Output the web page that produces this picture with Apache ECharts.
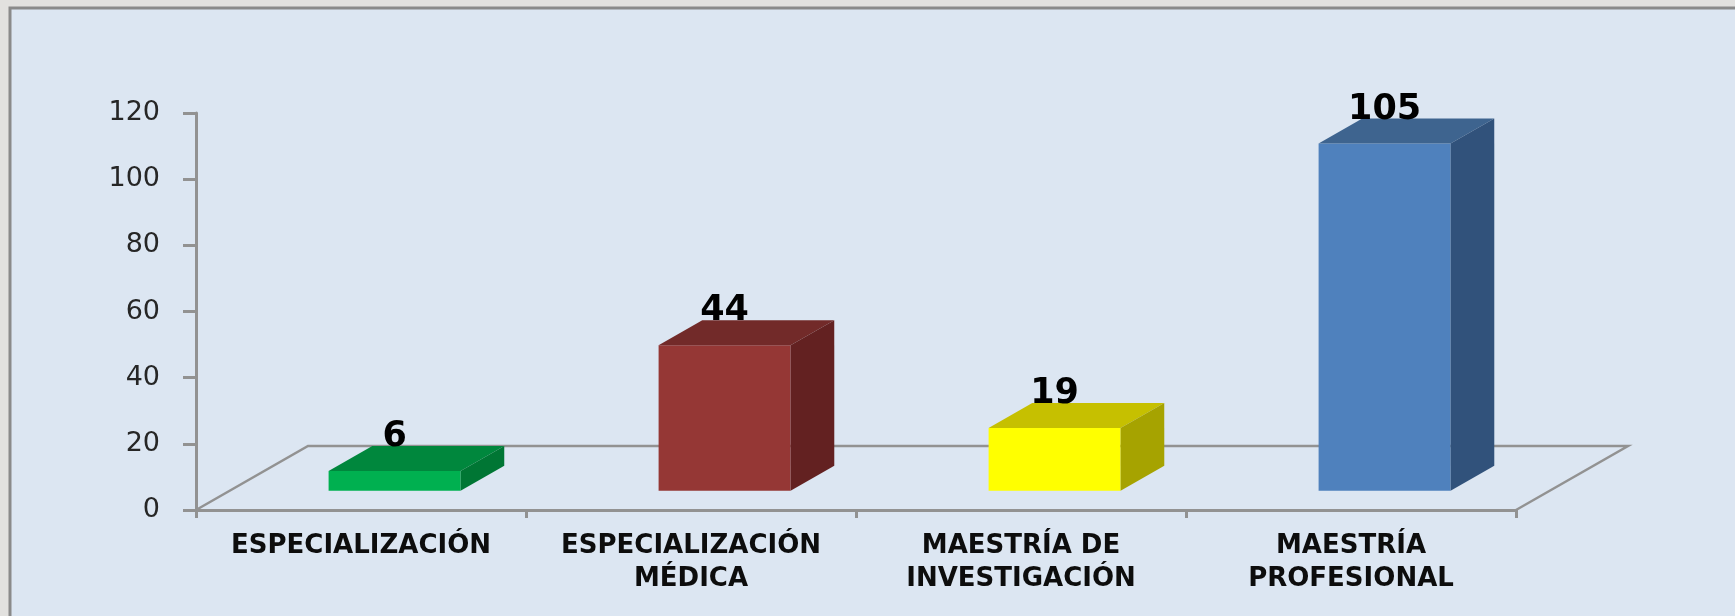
<!DOCTYPE html>
<html>
<head>
<meta charset="utf-8">
<script src="https://cdn.jsdelivr.net/npm/echarts@6/dist/echarts.min.js"></script>
<style>
html,body{margin:0;padding:0;background:#e2e1df;}
#chart{width:1735px;height:616px;}
</style>
</head>
<body>
<div id="chart"></div>
<script>
// ---- data ----
const categories = ['ESPECIALIZACIÓN', 'ESPECIALIZACIÓN\nMÉDICA', 'MAESTRÍA DE\nINVESTIGACIÓN', 'MAESTRÍA\nPROFESIONAL'];
const values = [6, 44, 19, 105];
const yTicks = { min: 0, max: 120, interval: 20 };

// ---- styles ----
const faceColors = [
  { front: '#00B050', top: '#00873D', side: '#007634' },
  { front: '#953735', top: '#722A29', side: '#632121' },
  { front: '#FFFF00', top: '#C6C000', side: '#A6A300' },
  { front: '#4F81BD', top: '#3E648F', side: '#31527B' }
];
const FLOOR_DX = 112, FLOOR_DY = -64;   // floor depth in px
const BAR_F = 0.30, BAR_D = 0.39;       // bar front position and depth as fraction of floor depth
const BAR_W = 0.4;                      // bar width as fraction of category width

const chart = echarts.init(document.getElementById('chart'));

function floorRender(params, api) {
  const cs = params.coordSys;
  const x0 = cs.x, x1 = cs.x + cs.width, y0 = cs.y + cs.height;
  const st = { stroke: '#929292', lineWidth: 2.5, fill: null };
  return {
    type: 'group',
    children: [
      { type: 'polyline', shape: { points: [[x0, y0], [x0 + FLOOR_DX, y0 + FLOOR_DY], [x1 + FLOOR_DX, y0 + FLOOR_DY], [x1, y0]] }, style: st }
    ]
  };
}

function barRender(params, api) {
  const idx = api.value(0), val = api.value(1);
  const base = api.coord([idx, 0]);
  const top = api.coord([idx, val]);
  const bw = api.size([1, 0])[0] * BAR_W;
  const fx = FLOOR_DX * BAR_F, fy = FLOOR_DY * BAR_F;
  const dx = FLOOR_DX * BAR_D, dy = FLOOR_DY * BAR_D;
  const cx = base[0] + fx;
  const xl = cx - bw / 2, xr = cx + bw / 2;
  const yb = base[1] + fy, yt = top[1] + fy;
  const c = faceColors[idx];
  return {
    type: 'group',
    children: [
      { type: 'rect', shape: { x: xl, y: yt, width: bw, height: yb - yt }, style: { fill: c.front } },
      { type: 'polygon', shape: { points: [[xl, yt], [xr, yt], [xr + dx, yt + dy], [xl + dx, yt + dy]] }, style: { fill: c.top } },
      { type: 'polygon', shape: { points: [[xr, yt], [xr + dx, yt + dy], [xr + dx, yb + dy], [xr, yb]] }, style: { fill: c.side } },
      { type: 'text', x: cx, y: yt + dy - 9, style: { text: String(val), fill: '#000', font: 'bold 35px "DejaVu Sans"', textAlign: 'center', textVerticalAlign: 'middle' } }
    ]
  };
}

chart.setOption({
  backgroundColor: '#e2e1df',
  animation: false,
  graphic: [
    { type: 'rect', shape: { x: 10, y: 8, width: 1800, height: 700 }, style: { fill: '#DCE6F2', stroke: '#8a8a8a', lineWidth: 3 }, z: -10 }
  ],
  grid: { left: 196, right: 219, top: 113, bottom: 106 },
  xAxis: {
    type: 'category',
    data: categories,
    boundaryGap: true,
    axisLine: { lineStyle: { color: '#929292', width: 3 } },
    axisTick: { show: true, length: 8, interval: 0, alignWithLabel: false, lineStyle: { color: '#929292', width: 3 } },
    axisLabel: { interval: 0, margin: 20, color: '#0d0d0d', fontFamily: 'DejaVu Sans', fontWeight: 'bold', fontSize: 26, lineHeight: 33, align: 'center' }
  },
  yAxis: {
    type: 'value',
    min: yTicks.min, max: yTicks.max, interval: yTicks.interval,
    axisLine: { show: true, lineStyle: { color: '#929292', width: 3 } },
    axisTick: { show: true, length: 13, lineStyle: { color: '#929292', width: 3 } },
    splitLine: { show: false },
    axisLabel: { margin: 36, color: '#262626', fontFamily: 'DejaVu Sans', fontSize: 27 }
  },
  series: [
    { type: 'custom', renderItem: floorRender, data: [[0, 0]], z: 1, silent: true },
    { type: 'custom', renderItem: barRender, data: values.map((v, i) => [i, v]), z: 5 }
  ]
});
</script>
</body>
</html>
